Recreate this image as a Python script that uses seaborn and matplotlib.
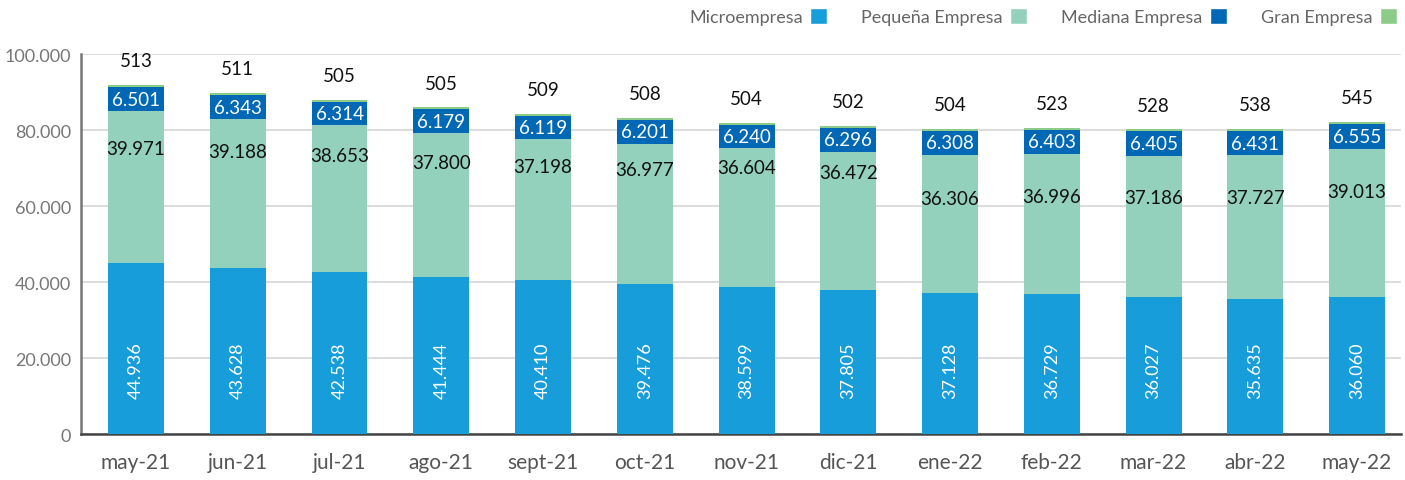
import matplotlib
matplotlib.use("Agg")
import matplotlib.pyplot as plt
from matplotlib.patches import Patch
from matplotlib.ticker import FuncFormatter
import numpy as np
import pandas as pd
import seaborn as sns

# datos
meses = ["may-21", "jun-21", "jul-21", "ago-21", "sept-21", "oct-21", "nov-21",
         "dic-21", "ene-22", "feb-22", "mar-22", "abr-22", "may-22"]
micro = [44936, 43628, 42538, 41444, 40410, 39476, 38599, 37805, 37128, 36729, 36027, 35635, 36060]
pequena = [39971, 39188, 38653, 37800, 37198, 36977, 36604, 36472, 36306, 36996, 37186, 37727, 39013]
mediana = [6501, 6343, 6314, 6179, 6119, 6201, 6240, 6296, 6308, 6403, 6405, 6431, 6555]
gran = [513, 511, 505, 505, 509, 508, 504, 502, 504, 523, 528, 538, 545]

# desplazamiento (px) de la etiqueta de Pequeña bajo el tope del segmento
peq_offset = [37, 32, 30, 30, 27, 26, 19, 21, 44, 43, 42, 42, 43]

col_micro = "#179dd9"
col_peq = "#93d1bc"
col_med = "#0068b4"
col_gran = "#8ccb88"

sns.set_theme(style="white")
plt.rcParams["font.family"] = ["Lato", "DejaVu Sans"]

df = pd.DataFrame({"mes": meses, "micro": micro, "pequena": pequena,
                   "mediana": mediana, "gran": gran})
df["c1"] = df["micro"]
df["c2"] = df["c1"] + df["pequena"]
df["c3"] = df["c2"] + df["mediana"]
df["c4"] = df["c3"] + df["gran"]

fig = plt.figure(figsize=(14.05, 4.81), dpi=100)
ax = fig.add_axes([0.0577, 0.0956, 0.9393, 0.7900])

for col, color in [("c4", col_gran), ("c3", col_med), ("c2", col_peq), ("c1", col_micro)]:
    sns.barplot(data=df, x="mes", y=col, color=color, width=0.55, saturation=1,
                linewidth=0, edgecolor="none", ax=ax, zorder=3)

ax.set_ylim(0, 100000)
ax.set_xlim(-0.54, 12.43)
ax.set_yticks(np.arange(0, 100001, 20000))
ax.yaxis.set_major_formatter(FuncFormatter(lambda v, p: f"{int(v):,}".replace(",", ".")))
ax.grid(axis="y", color="#d9d9d9", linewidth=1.3, zorder=0)
ax.set_axisbelow(True)
ax.set_xlabel("")
ax.set_ylabel("")
for s in ["top", "right"]:
    ax.spines[s].set_visible(False)
ax.spines["left"].set_color("#777777")
ax.spines["left"].set_linewidth(1.8)
ax.spines["bottom"].set_color("#444444")
ax.spines["bottom"].set_linewidth(1.8)
ax.tick_params(axis="y", labelsize=13, labelcolor="#777777", length=0, pad=7)
ax.tick_params(axis="x", labelsize=15, labelcolor="#555555", length=0, pad=13)

fmt = lambda v: f"{v:,}".replace(",", ".")
for i in range(len(meses)):
    ax.text(i, 17000, fmt(micro[i]), rotation=90, ha="center", va="center",
            color="white", fontsize=13, zorder=5)
    ax.annotate(fmt(pequena[i]), (i, df["c2"][i]), xytext=(0, -peq_offset[i] * 0.72),
                textcoords="offset points", ha="center", va="center",
                color="#111111", fontsize=13.5, zorder=5)
    ax.text(i, df["c2"][i] + mediana[i] / 2, fmt(mediana[i]), ha="center", va="center",
            color="white", fontsize=13.5, zorder=5)
    ax.annotate(fmt(gran[i]), (i, df["c4"][i]), xytext=(0, 17.5),
                textcoords="offset points", ha="center", va="center",
                color="#111111", fontsize=13.5, zorder=5, annotation_clip=False)

handles = [Patch(facecolor=col_micro), Patch(facecolor=col_peq),
           Patch(facecolor=col_med), Patch(facecolor=col_gran)]
labels = ["Microempresa", "Pequeña Empresa", "Mediana Empresa", "Gran Empresa"]
leg = fig.legend(handles, labels, loc="upper right", bbox_to_anchor=(1.006, 1.015),
                 ncol=4, frameon=False, markerfirst=False, fontsize=13,
                 handlelength=0.95, handleheight=0.95, handletextpad=0.4,
                 columnspacing=1.9)
for t in leg.get_texts():
    t.set_color("#666666")

fig.savefig("out.png", dpi=100)
